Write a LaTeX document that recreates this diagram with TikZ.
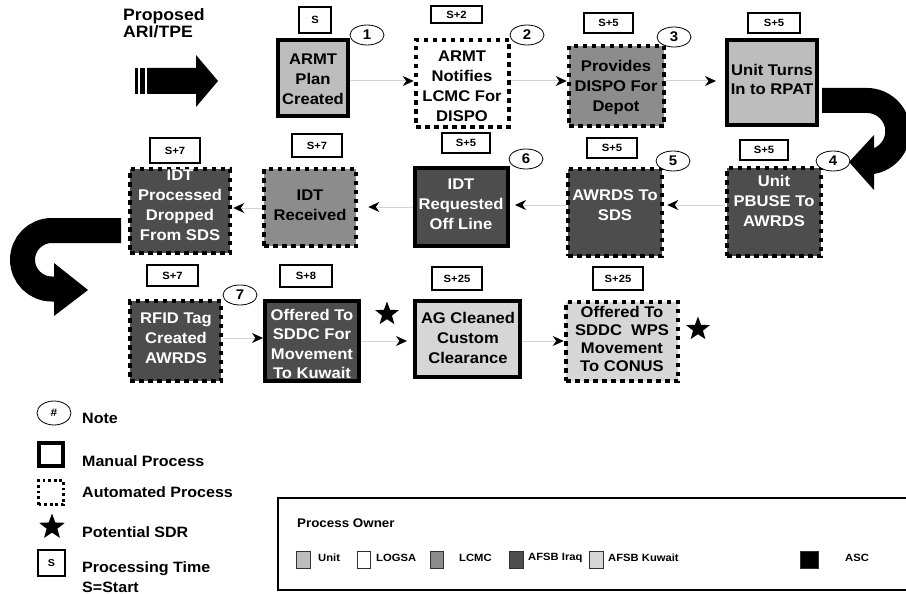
\documentclass[tikz,border=0pt]{standalone}
\usepackage{fontspec}
\setmainfont{Liberation Sans}[FakeStretch=1.07]
\usetikzlibrary{arrows.meta,shapes.geometric,fit}
\definecolor{cUnit}{HTML}{BDBDBD}
\definecolor{cLCMC}{HTML}{8C8C8C}
\definecolor{cIraq}{HTML}{4D4D4D}
\definecolor{cKuwait}{HTML}{D6D6D6}
\definecolor{cLine}{HTML}{D4D4D4}
\newcommand\myfs[2]{\fontsize{#1}{#2}\selectfont}
\begin{document}
\begin{tikzpicture}[x=1pt,y=-1pt,
  manual/.style={draw=black,line width=4pt,inner sep=0pt},
  autobox/.style={draw=black,line width=4.5pt,dash pattern=on 4.5pt off 4.5pt,inner sep=0pt},
  boxtxt/.style={align=center,font=\bfseries\myfs{15.5}{20},inner sep=0pt},
  tbox/.style={draw=black,fill=white,line width=1.3pt,inner sep=0pt},
  ttxt/.style={inner sep=0pt,font=\bfseries\myfs{10.5}{10.5}},
  note/.style={ellipse,draw=black,fill=white,line width=0.8pt,minimum width=34pt,minimum height=20pt,inner sep=0pt,font=\bfseries\myfs{14}{14}},
  sdr/.style={star,star points=5,star point ratio=2.4,fill=black,minimum size=25pt,inner sep=0pt},
  conn/.style={draw=cLine,line width=1pt,-{Stealth[length=11pt,width=10pt,inset=3.5pt,color=black]}},
  legtxt/.style={anchor=west,inner sep=0pt,font=\bfseries\myfs{15}{18}},
  swatch/.style={draw=black!80,line width=0.8pt,inner sep=0pt},
  swtxt/.style={anchor=west,inner sep=0pt,font=\bfseries\myfs{10.5}{12}}
]
\useasboundingbox (0,0) rectangle (906,594);
\clip (0,0) rectangle (906,594);
\fill[white] (0,0) rectangle (906,594);

% Proposed arrow
\node[anchor=north west,align=left,inner sep=0pt,font=\bfseries\myfs{16.5}{17}] (prop) at (123,8) {Proposed\\ARI/TPE};
\fill (135,68) rectangle (138,94);
\fill (140,68) rectangle (145,94);
\fill (147,68) -- (196,68) -- (196,55) -- (218,81) -- (196,107) -- (196,94) -- (147,94) -- cycle;

% ---- top row
\node[fit={(278,40) (348,116)},manual,fill=cUnit] (b1) {};
\node[boxtxt] (b1t) at (313,79) {ARMT\\Plan\\Created};
\node[fit={(416,40) (509,127)},autobox,fill=white] (b2) {};
\node[boxtxt] (b2t) at (462,86) {ARMT\\Notifies\\LCMC For\\DISPO};
\node[fit={(569,46) (664,126)},autobox,fill=cLCMC] (b3) {};
\node[boxtxt] (b3t) at (616,87) {Provides\\DISPO For\\Depot};
\node[fit={(727,40) (817,125)},manual,fill=cUnit] (b4) {};
\node[boxtxt,font=\bfseries\myfs{15.5}{19}] (b4t) at (772,79) {Unit Turns\\In to RPAT};

\node[fit={(299,7) (331,33)},tbox] (t1) {};
\node[ttxt] (t1t) at (t1.center) {S};
\node[fit={(431,6) (482,23)},tbox] (t2) {};
\node[ttxt] (t2t) at (t2.center) {S+2};
\node[fit={(584,13) (633,33)},tbox] (t3) {};
\node[ttxt] (t3t) at (t3.center) {S+5};
\node[fit={(748,13) (800,33)},tbox] (t4) {};
\node[ttxt] (t4t) at (t4.center) {S+5};

\node[note] (n1) at (367,35) {1};
\node[note] (n2) at (527,35) {2};
\node[note] (n3) at (674,37) {3};

\draw[conn] (b1.east |- 0,81) -- (b2.west |- 0,81);
\draw[conn] (b2.east |- 0,81) -- (b3.west |- 0,81);
\draw[conn,shorten >=9pt] (b3.east |- 0,81) -- (b4.west |- 0,81);

% right U-turn
\draw[line width=25pt] (822,100.5) -- (867,100.5) arc[start angle=-90,end angle=90,radius=30.75];
\fill (874,135) -- (849,162) -- (874,190) -- cycle;

% ---- middle row
\node[fit={(727,168) (821,256)},autobox,fill=cIraq] (b5) {};
\node[boxtxt,text=white] (b5t) at (774,201) {Unit\\PBUSE To\\AWRDS};
\node[fit={(568,169) (662,256)},autobox,fill=cIraq] (b6) {};
\node[boxtxt,text=white] (b6t) at (615,205) {AWRDS To\\SDS};
\node[fit={(415,168) (508,246)},manual,fill=cIraq] (b7) {};
\node[boxtxt,text=white] (b7t) at (461,204) {IDT\\Requested\\Off Line};
\node[fit={(264,169) (356,246)},autobox,fill=cLCMC] (b8) {};
\node[boxtxt] (b8t) at (310,205) {IDT\\Received};
\node[fit={(130,169) (230,253)},autobox,fill=cIraq] (b9) {};
\node[boxtxt,text=white] (b9t) at (180,205) {IDT\\Processed\\Dropped\\From SDS};

\node[fit={(740,140) (788,160)},tbox] (t5) {};
\node[ttxt] (t5t) at (t5.center) {S+5};
\node[fit={(587,138) (637,158)},tbox] (t6) {};
\node[ttxt] (t6t) at (t6.center) {S+5};
\node[fit={(442,133) (490,153)},tbox] (t7) {};
\node[ttxt] (t7t) at (t7.center) {S+5};
\node[fit={(292,134) (342,157)},tbox] (t8) {};
\node[ttxt] (t8t) at (t8.center) {S+7};
\node[fit={(150,138) (200,163)},tbox] (t9) {};
\node[ttxt] (t9t) at (t9.center) {S+7};

\node[note] (n4) at (833,161) {4};
\node[note] (n5) at (673,161) {5};
\node[note] (n6) at (526,159) {6};

\draw[conn,shorten >=3pt] (b5.west |- 0,205) -- (b6.east |- 0,205);
\draw[conn,shorten >=5pt] (b6.west |- 0,205) -- (b7.east |- 0,205);
\draw[conn,shorten >=10pt] (b7.west |- 0,207) -- (b8.east |- 0,207);
\draw[conn,shorten >=1pt] (b8.west |- 0,208) -- (b9.east |- 0,208);

% left U-turn
\draw[line width=25pt] (121,230.5) -- (51.75,230.5) arc[start angle=270,end angle=90,radius=29.25] -- (57,289);
\fill (54,263) -- (88,290) -- (54,316) -- cycle;

% ---- bottom row
\node[fit={(130,301) (221,381)},autobox,fill=cIraq] (b10) {};
\node[boxtxt,text=white] (b10t) at (176,338) {RFID Tag\\Created\\AWRDS};
\node[fit={(265,301) (359,381)},manual,fill=cIraq] (b11) {};
\node[boxtxt,text=white,font=\bfseries\myfs{15.5}{19.5}] (b11t) at (312,344) {Offered To\\SDDC For\\Movement\\To Kuwait};
\node[fit={(415,301) (520,377)},manual,fill=cKuwait] (b12) {};
\node[boxtxt] (b12t) at (468,338) {AG Cleaned\\Custom\\Clearance};
\node[fit={(566,302) (678,381)},autobox,fill=cKuwait] (b13) {};
\node[boxtxt,font=\bfseries\myfs{15.5}{17.8}] (b13t) at (622,339) {Offered To\\SDDC\ \ WPS\\Movement\\To CONUS};

\node[fit={(147,265) (198,286)},tbox] (t10) {};
\node[ttxt] (t10t) at (t10.center) {S+7};
\node[fit={(280,265) (332,287)},tbox] (t11) {};
\node[ttxt] (t11t) at (t11.center) {S+8};
\node[fit={(432,267) (482,290)},tbox] (t12) {};
\node[ttxt] (t12t) at (t12.center) {S+25};
\node[fit={(593,267) (643,290)},tbox] (t13) {};
\node[ttxt] (t13t) at (t13.center) {S+25};

\node[note] (n7) at (240,295) {7};
\node[sdr] (s1) at (387,314) {};
\node[sdr] (s2) at (698,329) {};

\draw[conn] (b10.east |- 0,338) -- (b11.west |- 0,338);
\draw[conn,shorten >=6pt] (b11.east |- 0,341) -- (b12.west |- 0,341);
\draw[conn] (b12.east |- 0,341) -- (b13.west |- 0,341);

% ---- legend
\node[note,minimum height=24pt,font=\bfseries\myfs{11}{11}] (lg1) at (54,413) {\#};
\node[legtxt] (lg1t) at (82,418) {Note};
\node[fit={(39,443) (63,466)},draw=black,line width=3.5pt,inner sep=0pt] (lg2) {};
\node[legtxt] (lg2t) at (82,461) {Manual Process};
\node[fit={(38.5,480.5) (63.5,504.5)},draw=black,line width=2.8pt,dash pattern=on 2.8pt off 2.8pt,inner sep=0pt] (lg3) {};
\node[legtxt] (lg3t) at (82,492) {Automated Process};
\node[sdr,minimum size=27pt] (lg4) at (52,527) {};
\node[legtxt] (lg4t) at (82,532) {Potential SDR};
\node[fit={(38,550) (65,576)},tbox,line width=1.1pt] (lg5) {};
\node[ttxt,font=\bfseries\myfs{10}{10}] (lg5s) at (lg5.center) {S};
\node[legtxt,align=left,font=\bfseries\myfs{15}{20}] (lg5t) at (82,577) {Processing Time\\S=Start};

% ---- process owner
\node[fit={(278,498) (940,590)},draw=black,line width=1.3pt,inner sep=0pt] (po) {};
\node[anchor=west,inner sep=0pt,font=\bfseries\myfs{12.5}{14}] (pot) at (297,523) {Process Owner};
\node[fit={(296,551) (310,568)},swatch,fill=cUnit] (sw1) {};
\node[swtxt] (sw1t) at (318,558) {Unit};
\node[fit={(357,551) (370,568)},swatch,fill=white] (sw2) {};
\node[swtxt] (sw2t) at (376,558) {LOGSA};
\node[fit={(430,551) (443,568)},swatch,fill=cLCMC] (sw3) {};
\node[swtxt] (sw3t) at (459,558) {LCMC};
\node[fit={(509,551) (523,568)},swatch,fill=cIraq] (sw4) {};
\node[swtxt] (sw4t) at (528,558) {AFSB Iraq};
\node[fit={(589,551) (603,568)},swatch,fill=cKuwait] (sw5) {};
\node[swtxt] (sw5t) at (608,558) {AFSB Kuwait};
\node[fit={(800,551) (818,568)},swatch,fill=black] (sw6) {};
\node[swtxt] (sw6t) at (845,558) {ASC};
\end{tikzpicture}
\end{document}
